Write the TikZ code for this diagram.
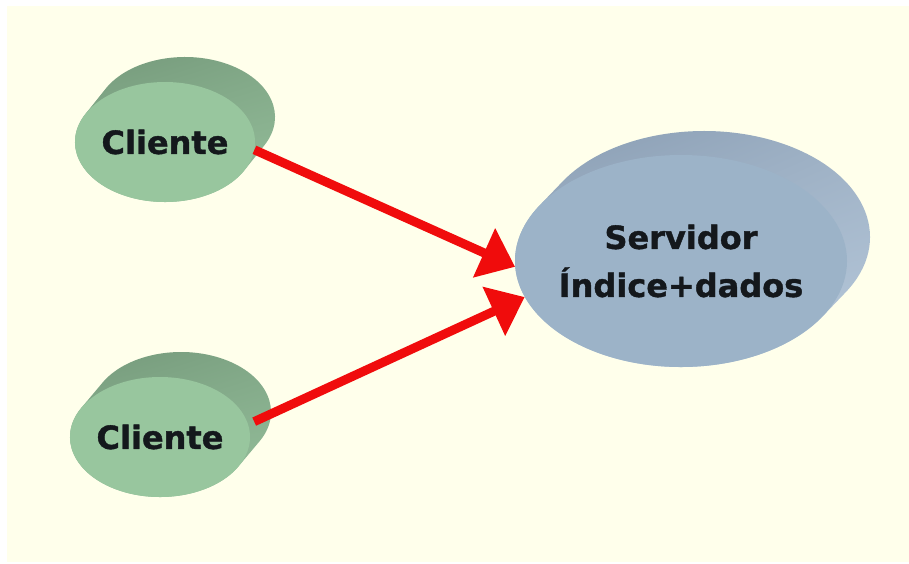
\documentclass[tikz,border=0pt]{standalone}
\usepackage{fontspec}
\setmainfont{DejaVu Sans}
\newfontfamily\labelface{DejaVu Sans Bold}[FakeBold=1.2]
\usetikzlibrary{shapes.geometric,arrows.meta,shadings}

\definecolor{paper}{RGB}{255,255,235}
\definecolor{greenface}{RGB}{152,198,158}
\definecolor{greentop}{RGB}{114,150,120}
\definecolor{greenrim}{RGB}{150,192,156}
\definecolor{blueface}{RGB}{156,179,200}
\definecolor{bluetop}{RGB}{132,152,174}
\definecolor{bluerim}{RGB}{184,202,220}
\definecolor{linkred}{RGB}{240,12,12}
\definecolor{ink}{RGB}{20,24,28}

% side wall of a tilted disc: centre (#1,#2), radii #3/#4, depth offset (#5,#6),
% tangent angle #7, shading options #8
\newcommand{\discwall}[8]{%
  \shade[#8] (#1,#2) ++({#3*cos(#7)},{#4*sin(#7)})
    arc[start angle=#7, end angle=#7+180, x radius=#3, y radius=#4]
    -- ++(#5,#6)
    arc[start angle=#7+180, end angle=#7+360, x radius=#3, y radius=#4]
    -- cycle;}

\begin{document}
\begin{tikzpicture}[x=1pt,y=-1pt,
  label font/.style={font=\fontsize{32}{48}\selectfont\labelface, text=ink},
  clientface/.style={ellipse, fill=greenface, draw=none, inner sep=0pt,
    minimum width=180pt, minimum height=120pt, label font},
  serverface/.style={ellipse, fill=blueface, draw=none, inner ysep=0pt,
    inner xsep=-30pt, minimum width=332pt, minimum height=212pt,
    align=center, label font},
  link/.style={draw=linkred, line width=9pt,
    -{Triangle[length=34pt,width=52pt]}}]

  % page and paper
  \fill[white] (0,0) rectangle (909,563);
  \fill[paper] (7,6) rectangle (909,562);
  \useasboundingbox (0,0) rectangle (909,563);

  % client discs
  \discwall{165}{142}{90}{60}{20}{-25}{28.1}{upper left=greentop, upper right=greentop!60!greenrim, lower left=greenrim, lower right=greenrim}
  \node[clientface] (c1) at (165,142) {Cliente};

  \discwall{160}{437}{90}{60}{21}{-25}{28.1}{upper left=greentop, upper right=greentop!60!greenrim, lower left=greenrim, lower right=greenrim}
  \node[clientface] (c2) at (160,437) {Cliente};

  % server disc
  \discwall{681}{261}{166}{106}{23}{-24}{31.3}{upper left=bluetop, upper right=bluetop!50!bluerim, lower left=bluerim, lower right=bluerim}
  \node[serverface] (s) at (681,261) {Servidor\\Índice+dados};

  % requests
  \draw[link] (c1.-5) -- (s.182);
  \draw[link] ([xshift=7pt]c2.10) -- (s.193);
\end{tikzpicture}
\end{document}
